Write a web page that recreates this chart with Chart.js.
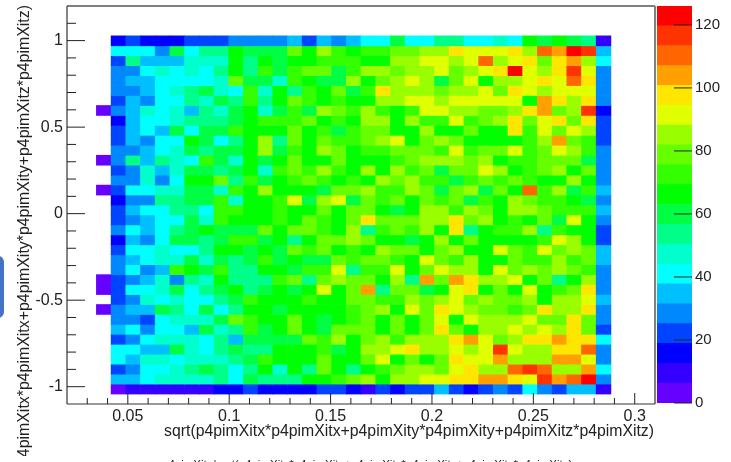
<!DOCTYPE html>
<html>
<head>
<meta charset="utf-8">
<style>
html, body { margin: 0; padding: 0; background: #fff; overflow: hidden; }
canvas { position: absolute; top: 0; filter: blur(0.45px); }
#main { left: 0; }
#zbar { left: 655px; }
</style>
<script src="https://cdn.jsdelivr.net/npm/chart.js@4/dist/chart.umd.min.js"></script>
</head>
<body>
<canvas id="main" width="731" height="462"></canvas>
<canvas id="zbar" width="76" height="462"></canvas>
<script>
var xRange = [0.02, 0.31];
var yRange = [-1.1, 1.2];
var zMax = 126;
var binCount = 40;
var firstCol = 3;
var firstRow = 3;

var xTicks = [0.05, 0.1, 0.15, 0.2, 0.25, 0.3];
var xMinor = [0.03, 0.04, 0.06, 0.07, 0.08, 0.09, 0.11, 0.12, 0.13, 0.14, 0.16, 0.17, 0.18, 0.19, 0.21, 0.22, 0.23, 0.24, 0.26, 0.27, 0.28, 0.29];
var yTicks = [-1, -0.5, 0, 0.5, 1];
var yMinor = [-0.9, -0.8, -0.7, -0.6, -0.4, -0.3, -0.2, -0.1, 0.1, 0.2, 0.3, 0.4, 0.6, 0.7, 0.8, 0.9, 1.1];
var zTicks = [0, 20, 40, 60, 80, 100, 120];

var xTitle = "sqrt(p4pimXitx*p4pimXitx+p4pimXity*p4pimXity+p4pimXitz*p4pimXitz)";
var yTitle = "sqrt(p4pimXitx*p4pimXitx+p4pimXity*p4pimXity+p4pimXitz*p4pimXitz)";
var cutTitle = "p4pimXitz/sqrt(p4pimXitx*p4pimXitx+p4pimXity*p4pimXity+p4pimXitz*p4pimXitz)";

var palette = ["#6600ff", "#3300ff", "#0000ff", "#0044ff", "#0088ff", "#00bfff", "#00ffff", "#00ffcc", "#00ff88", "#00ff44",
	"#00ff00", "#33ff00", "#66ff00", "#99ff00", "#e0ff00", "#ffe600", "#ffa000", "#ff6600", "#ff3300", "#ff0000"];

// bin counts, top row first
var counts = [
	[16,22,16,16,16,22,22,22,28,28,28,28,35,22,35,28,35,41,41,60,41,41,54,54,41,41,47,41,66,60,66,60,54,9],
	[41,41,41,28,60,41,54,54,66,60,60,60,79,66,85,72,66,72,72,79,79,85,85,98,91,91,91,98,85,110,104,123,117,35],
	[22,54,35,35,35,47,47,47,66,54,66,60,66,66,72,72,72,66,66,85,85,91,91,85,91,110,85,91,98,79,98,104,85,41],
	[28,28,41,47,41,47,41,54,66,54,72,60,72,79,79,60,72,85,85,79,85,85,91,79,85,91,98,123,91,85,98,117,91,28],
	[28,35,35,41,41,41,41,47,79,60,60,47,72,66,60,60,85,66,79,85,91,85,60,79,91,66,85,85,91,98,91,110,98,28],
	[28,28,35,41,47,54,60,47,41,72,47,66,54,72,66,79,60,72,98,85,85,85,79,85,85,91,79,98,91,85,91,91,91,28],
	[22,35,28,41,41,54,47,60,54,72,54,66,79,72,66,72,66,66,85,85,91,91,85,91,91,91,91,91,66,104,98,85,98,28],
	[28,35,47,41,47,35,54,47,60,66,47,60,72,60,85,79,72,85,72,66,72,91,91,85,85,79,79,85,98,104,79,85,117,16],
	[16,35,41,41,47,54,54,54,60,66,72,72,72,79,66,72,66,85,85,66,85,72,72,91,72,79,85,98,79,91,98,79,98,22],
	[22,35,41,35,60,41,60,60,72,66,66,66,79,66,72,60,72,79,79,66,66,85,66,66,79,66,66,98,72,91,79,91,85,22],
	[22,35,28,41,41,66,60,41,54,66,85,54,79,66,79,72,72,79,85,91,66,79,85,79,66,66,66,66,72,85,104,79,72,22],
	[28,28,35,41,47,60,54,60,60,66,85,60,72,66,85,79,66,72,72,79,79,79,72,91,72,79,79,91,72,79,91,85,72,28],
	[28,54,35,54,47,41,72,60,47,66,60,66,79,66,66,79,66,66,66,72,79,85,85,85,79,85,66,72,72,79,79,79,60,28],
	[22,28,47,35,47,60,60,54,60,66,47,72,79,72,85,72,66,85,66,85,72,79,60,79,79,91,85,66,72,79,85,66,79,28],
	[28,28,47,28,41,66,66,79,54,72,60,66,72,79,72,66,72,66,85,79,85,72,72,60,72,79,72,79,72,66,66,85,66,28],
	[22,41,41,47,47,60,60,47,72,66,85,66,66,66,60,79,79,85,72,72,85,79,60,79,85,60,79,66,110,72,85,60,72,35],
	[16,28,28,54,54,60,60,72,47,66,66,72,91,60,85,91,60,79,72,79,66,79,72,79,60,72,66,85,79,72,72,66,60,28],
	[22,35,41,41,54,54,41,72,72,66,66,72,66,66,79,66,79,79,66,60,66,85,85,72,85,79,66,85,85,79,72,72,72,35],
	[22,28,35,41,41,60,47,72,66,66,66,72,66,79,72,66,79,98,79,79,79,85,85,98,79,85,66,72,66,79,60,91,66,28],
	[28,41,35,41,54,60,66,60,60,60,79,66,79,79,72,66,85,54,72,79,72,85,66,98,54,66,72,72,85,54,72,66,66,22],
	[16,35,28,41,60,60,54,60,72,72,60,66,54,66,79,79,85,79,66,66,60,66,85,66,79,66,66,66,66,72,91,85,66,22],
	[22,41,41,47,41,41,54,66,66,60,66,60,79,72,79,66,72,66,85,79,79,66,79,85,66,66,91,79,72,91,79,85,79,35],
	[28,35,41,47,47,60,47,60,54,60,72,60,66,60,60,79,72,79,79,72,66,91,79,72,85,66,66,79,72,72,85,72,79,35],
	[28,41,28,35,72,66,60,72,54,54,66,66,60,72,72,91,54,72,72,91,66,79,91,85,85,66,91,79,85,79,85,79,72,28],
	[22,28,35,47,28,54,47,66,54,54,54,72,79,54,79,85,79,79,66,85,54,104,79,104,98,85,85,91,66,79,54,66,85,28],
	[22,41,41,47,60,41,54,60,66,54,60,66,60,66,91,66,79,104,54,79,79,60,66,91,98,66,79,66,91,66,72,79,98,28],
	[22,28,47,41,47,41,41,54,60,72,66,66,66,72,66,66,79,79,72,72,85,79,85,91,79,85,79,79,85,66,85,85,91,35],
	[28,35,35,60,54,41,60,41,54,66,66,60,66,66,66,66,72,79,85,66,91,79,98,91,85,79,79,72,79,98,85,85,98,28],
	[28,28,22,41,47,47,47,60,79,72,66,66,79,66,60,66,72,79,66,79,66,79,91,66,91,85,85,85,91,79,79,98,79,28],
	[35,41,28,41,41,35,60,47,54,72,60,66,79,66,60,79,79,79,66,79,66,79,98,79,66,85,85,91,85,91,85,98,79,22],
	[22,28,41,47,47,47,41,54,35,60,60,60,60,79,72,85,66,79,85,72,85,85,85,98,104,91,79,85,98,98,104,98,98,41],
	[41,41,35,35,60,47,41,54,60,54,54,66,66,66,72,60,66,85,85,91,98,85,85,91,85,91,117,91,85,85,98,98,110,28],
	[41,35,47,47,41,47,47,47,54,60,72,66,66,66,79,66,66,79,91,66,79,66,79,98,91,91,104,85,85,85,104,104,91,28],
	[22,28,41,41,47,54,60,54,41,54,66,47,66,54,79,66,54,66,72,79,85,85,79,91,98,85,85,110,117,110,85,85,104,41],
	[35,35,41,47,47,47,47,54,41,60,54,54,54,66,66,72,79,85,66,85,85,91,91,98,98,104,104,98,91,117,104,110,123,28],
	[3,9,9,9,9,9,9,16,16,22,16,16,16,16,22,22,16,9,22,16,22,22,35,22,16,22,28,22,41,28,22,35,35,9]
];
// the few filled bins in the column left of the block
var edgeRows = [7, 12, 15, 24, 25, 27];
var edgeCount = 3;

var fontName = "'Liberation Sans', Arial, sans-serif";
var inkColor = "#222";

function levelColor(v) {
	return palette[Math.min(palette.length - 1, Math.floor(v / zMax * palette.length))];
}

function buildRowDatasets() {
	var binW = (xRange[1] - xRange[0]) / binCount;
	var binH = (yRange[1] - yRange[0]) / binCount;
	return counts.map(function (row, r) {
		var hi = yRange[1] - (firstRow + r) * binH;
		var values = row.slice();
		var startCol = firstCol;
		if (edgeRows.indexOf(r) >= 0) {
			values.unshift(edgeCount);
			startCol = firstCol - 1;
		}
		return {
			data: values.map(function (v, c) {
				return { x: xRange[0] + (startCol + c + 0.5) * binW, y: [hi - binH, hi] };
			}),
			backgroundColor: values.map(levelColor),
			borderWidth: 0,
			grouped: false,
			barPercentage: 1,
			categoryPercentage: 1
		};
	});
}

function drawTick(ctx, x1, y1, x2, y2) {
	ctx.beginPath();
	ctx.moveTo(x1, y1);
	ctx.lineTo(x2, y2);
	ctx.stroke();
}

// no room kept for labels hanging over the axis ends
function dropOverhang(scale) {
	scale.paddingTop = 0;
	scale.paddingBottom = 0;
	scale.paddingLeft = 0;
	scale.paddingRight = 0;
}

// ROOT style frame: ticks point into the plot, titles sit off centre
var rootFrame = {
	id: "rootFrame",
	afterDraw: function (chart) {
		var ctx = chart.ctx, a = chart.chartArea, sx = chart.scales.x, sy = chart.scales.y;
		ctx.save();

		ctx.strokeStyle = "#808080";
		ctx.lineWidth = 2;
		drawTick(ctx, a.left, a.top, a.right, a.top);
		drawTick(ctx, a.right, a.top, a.right, a.bottom);
		ctx.strokeStyle = "#333";
		ctx.lineWidth = 1.2;
		drawTick(ctx, a.left, a.top, a.left, a.bottom);
		drawTick(ctx, a.left, a.bottom, a.right, a.bottom);

		ctx.strokeStyle = inkColor;
		ctx.lineWidth = 1;
		xTicks.forEach(function (v) {
			var p = sx.getPixelForValue(v);
			drawTick(ctx, p, a.bottom, p, a.bottom - 11);
		});
		xMinor.forEach(function (v) {
			var p = sx.getPixelForValue(v);
			drawTick(ctx, p, a.bottom, p, a.bottom - 6);
		});
		yTicks.forEach(function (v) {
			var p = sy.getPixelForValue(v);
			drawTick(ctx, a.left, p, a.left + 18, p);
		});
		yMinor.forEach(function (v) {
			var p = sy.getPixelForValue(v);
			drawTick(ctx, a.left, p, a.left + 9, p);
		});

		ctx.fillStyle = inkColor;
		ctx.font = "15.8px " + fontName;
		ctx.textAlign = "right";
		ctx.textBaseline = "alphabetic";
		ctx.fillText(xTitle, 654, 436);

		// y title is cut off just above the bottom edge, as in the screenshot
		ctx.save();
		ctx.beginPath();
		ctx.rect(0, 0, 60, 456);
		ctx.clip();
		ctx.font = "15.9px " + fontName;
		ctx.translate(29, 5);
		ctx.rotate(-Math.PI / 2);
		ctx.fillText(yTitle, 0, 0);
		ctx.restore();

		ctx.font = "11.5px " + fontName;
		ctx.textAlign = "left";
		ctx.fillText(cutTitle, 162, 468);

		// clipped edge of a slide behind the plot
		ctx.fillStyle = "#4472c4";
		ctx.beginPath();
		ctx.roundRect(-8, 256, 12, 62, 6);
		ctx.fill();
		ctx.restore();
	}
};

var zTickMarks = {
	id: "zTickMarks",
	afterDraw: function (chart) {
		var ctx = chart.ctx, a = chart.chartArea, sy = chart.scales.y;
		ctx.save();
		ctx.strokeStyle = inkColor;
		ctx.lineWidth = 1;
		zTicks.forEach(function (v) {
			var p = sy.getPixelForValue(v);
			drawTick(ctx, a.right - 18, p, a.right, p);
		});
		ctx.restore();
	}
};

new Chart(document.getElementById("main"), {
	type: "bar",
	data: { datasets: buildRowDatasets() },
	plugins: [rootFrame],
	options: {
		responsive: false,
		animation: false,
		layout: { padding: { top: 6, right: 76, bottom: 0, left: 0 } },
		plugins: { legend: { display: false }, title: { display: false }, tooltip: { enabled: false } },
		scales: {
			x: {
				type: "linear",
				min: xRange[0],
				max: xRange[1],
				offset: false,
				grid: { display: false, drawTicks: false },
				border: { display: false },
				afterBuildTicks: function (scale) {
					scale.ticks = xTicks.map(function (v) { return { value: v }; });
				},
				afterFit: function (scale) { scale.height = 58; dropOverhang(scale); },
				ticks: {
					autoSkip: false,
					maxRotation: 0,
					padding: 3,
					color: inkColor,
					font: { family: fontName, size: 16 },
					callback: function (v) { return String(v); }
				}
			},
			y: {
				type: "linear",
				min: yRange[0],
				max: yRange[1],
				grid: { display: false, drawTicks: false },
				border: { display: false },
				afterBuildTicks: function (scale) {
					scale.ticks = yTicks.map(function (v) { return { value: v }; });
				},
				afterFit: function (scale) { scale.width = 67; dropOverhang(scale); },
				ticks: {
					autoSkip: false,
					padding: 4,
					color: inkColor,
					font: { family: fontName, size: 16 },
					callback: function (v) { return String(v); }
				}
			}
		}
	}
});

new Chart(document.getElementById("zbar"), {
	type: "bar",
	data: {
		labels: [""],
		datasets: palette.map(function (color, i) {
			return {
				data: [[i * zMax / palette.length, (i + 1) * zMax / palette.length]],
				backgroundColor: color,
				borderWidth: 0,
				grouped: false,
				barPercentage: 1,
				categoryPercentage: 1
			};
		})
	},
	plugins: [zTickMarks],
	options: {
		responsive: false,
		animation: false,
		layout: { padding: { top: 6, right: 0, bottom: 59, left: 2 } },
		plugins: { legend: { display: false }, title: { display: false }, tooltip: { enabled: false } },
		scales: {
			x: { display: false },
			y: {
				type: "linear",
				position: "right",
				min: 0,
				max: zMax,
				grid: { display: false, drawTicks: false },
				border: { display: false },
				afterBuildTicks: function (scale) {
					scale.ticks = zTicks.map(function (v) { return { value: v }; });
				},
				afterFit: function (scale) { scale.width = 39; dropOverhang(scale); },
				ticks: {
					autoSkip: false,
					padding: 3,
					color: inkColor,
					font: { family: fontName, size: 15 },
					callback: function (v) { return String(v); }
				}
			}
		}
	}
});
</script>
</body>
</html>
